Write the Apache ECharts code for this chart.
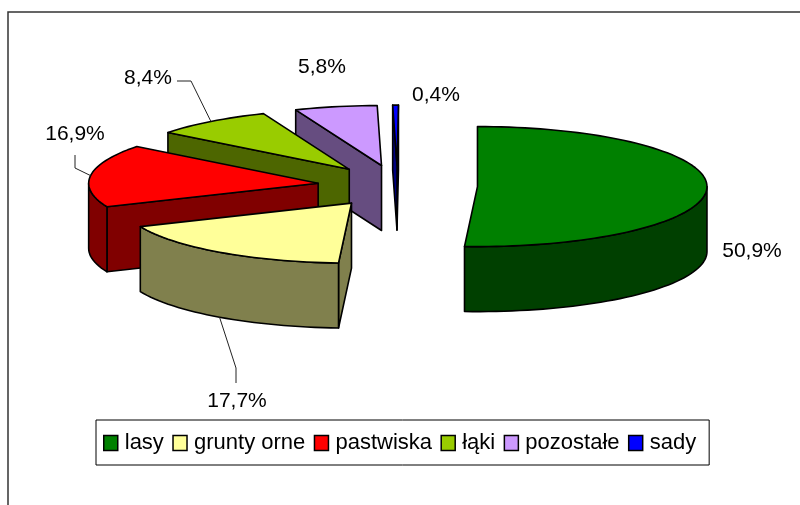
<!DOCTYPE html>
<html>
<head>
<meta charset="utf-8">
<title>Struktura gruntów</title>
<script src="https://cdn.jsdelivr.net/npm/echarts@6/dist/echarts.min.js"></script>
<style>
  html, body { margin: 0; padding: 0; background: #fff; }
  #chart { width: 800px; height: 505px; }
</style>
</head>
<body>
<div id="chart"></div>
<script>
const categories = ["lasy", "grunty orne", "pastwiska", "łąki", "pozostałe", "sady"];
const percentValues = [50.9, 17.7, 16.9, 8.4, 5.8, 0.4];
const percentLabels = ["50,9%", "17,7%", "16,9%", "8,4%", "5,8%", "0,4%"];

const topColors = ["#008000", "#ffff99", "#ff0000", "#99cc00", "#cc99ff", "#0000ff"];
const sideColors = ["#004000", "#80804d", "#800000", "#4d6600", "#664d80", "#000080"];

// pie geometry (pixels)
const CX = 397.5, CY = 186, RX = 229.5, RY = 60, DEPTH = 65, EXPLODE = 80;
const FONT = '"Liberation Sans", Arial, sans-serif';

// label centres, and the bend of the leader line (null = no leader)
const labelPos = [[752, 251], [237, 401], [75, 134], [148, 78], [322, 67], [436, 95]];
const leaderPts = [
  null,
  { onRim: true, pts: [[236, 383], [236, 368]] },
  { pts: [[75, 155], [75, 168]] },
  { pts: [[177, 81], [191, 81]] },
  null,
  null,
];

const rad = (deg) => (deg * Math.PI) / 180;

// start/end angle of each slice, clockwise from 12 o'clock
let acc = 0;
const slices = percentValues.map((v) => {
  const start = acc;
  acc += v * 3.6;
  return { start, end: acc, mid: (start + acc) / 2 };
});

function renderSlice(i) {
  const s = slices[i];
  const ax = CX + EXPLODE * Math.sin(rad(s.mid));
  const ay = CY - EXPLODE * (RY / RX) * Math.cos(rad(s.mid));
  const pt = (deg, drop) => [
    ax + RX * Math.sin(rad(deg)),
    ay - RY * Math.cos(rad(deg)) + (drop || 0),
  ];
  const arc = (from, to, drop) => {
    const out = [];
    const n = Math.max(1, Math.ceil((to - from) / 2));
    for (let k = 0; k <= n; k++) out.push(pt(from + ((to - from) * k) / n, drop));
    return out;
  };
  const lineStyle = { stroke: "#000", lineWidth: 1.6, lineJoin: "round" };
  const poly = (points, fill) => ({
    type: "polygon",
    shape: { points },
    style: Object.assign({ fill }, lineStyle),
  });

  const children = [];
  const wall = (deg) =>
    poly([[ax, ay], pt(deg), pt(deg, DEPTH), [ax, ay + DEPTH]], sideColors[i]);

  // back face culling of the two radial walls
  if (Math.sin(rad(s.end)) > 0) children.push(wall(s.end));
  if (Math.sin(rad(s.start)) < 0) children.push(wall(s.start));

  // outer rim, only the part facing the viewer
  const rimFrom = Math.max(s.start, 90);
  const rimTo = Math.min(s.end, 270);
  if (rimTo > rimFrom) {
    children.push(poly(arc(rimFrom, rimTo, 0).concat(arc(rimFrom, rimTo, DEPTH).reverse()), sideColors[i]));
  }

  // top face
  children.push(poly([[ax, ay]].concat(arc(s.start, s.end, 0)), topColors[i]));

  // leader line
  if (leaderPts[i]) {
    const anchor = pt(s.mid, leaderPts[i].onRim ? DEPTH : 0);
    children.push({
      type: "polyline",
      shape: { points: leaderPts[i].pts.concat([anchor]) },
      style: { stroke: "#222", lineWidth: 1, fill: null },
    });
  }

  children.push({
    type: "text",
    style: {
      x: labelPos[i][0],
      y: labelPos[i][1],
      text: percentLabels[i],
      font: "21px " + FONT,
      fill: "#000",
      align: "center",
      verticalAlign: "middle",
    },
  });

  return { type: "group", children };
}

const chart = echarts.init(document.getElementById("chart"), null, { renderer: "canvas" });

chart.setOption({
  animation: false,
  color: topColors,
  graphic: [
    {
      type: "rect",
      shape: { x: 8, y: 12, width: 900, height: 600 },
      style: { fill: null, stroke: "#333", lineWidth: 1.5 },
      silent: true,
    },
  ],
  legend: {
    data: categories,
    left: 96,
    top: 420,
    orient: "horizontal",
    padding: [12, 13, 11, 7],
    itemGap: 8.4,
    itemWidth: 14,
    itemHeight: 15,
    icon: "rect",
    backgroundColor: "#fff",
    borderColor: "#000",
    borderWidth: 1,
    selectedMode: false,
    itemStyle: { borderColor: "#000", borderWidth: 1.5 },
    textStyle: { fontFamily: FONT, fontSize: 22, color: "#000", padding: [0, 0, 0, 2] },
  },
  series: categories.map((name, i) => ({
    type: "custom",
    name,
    coordinateSystem: "none",
    z: categories.length - i,
    itemStyle: { color: topColors[i] },
    data: [percentValues[i]],
    renderItem: () => renderSlice(i),
  })),
});
</script>
</body>
</html>
